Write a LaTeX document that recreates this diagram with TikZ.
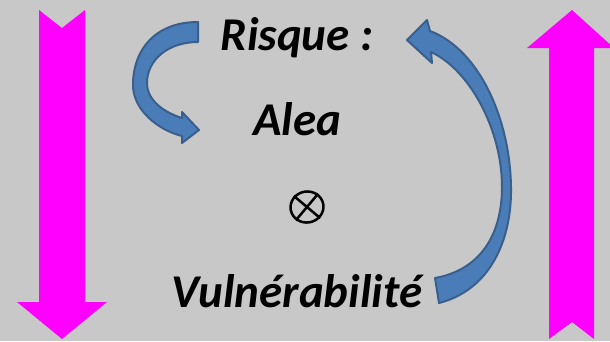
\documentclass[tikz,border=0pt]{standalone}
\usepackage{fontspec}
\setmainfont{Carlito}
\usepackage{tikz}
\usetikzlibrary{shapes.geometric}
\definecolor{mybg}{HTML}{C8C8C8}
\definecolor{mypink}{HTML}{FF00FF}
\definecolor{myblue}{HTML}{4A7DB8}
\definecolor{myedge}{HTML}{3A5F8C}
\tikzset{
  word/.style={anchor=base,font=\fontsize{47}{47}\selectfont\bfseries\itshape},
  curvearrow/.style={fill=myblue,draw=myedge,line width=2pt,line join=round}
}
\begin{document}
\begin{tikzpicture}[x=1pt,y=-1pt]

\fill[mybg] (0,0) rectangle (610,341);
\useasboundingbox (0,0) rectangle (610,341);

% magenta arrows
\fill[mypink] (39,10) -- (62,28) -- (85,10) -- (85,302) -- (107,302) -- (62,339)
    -- (17,302) -- (39,302) -- cycle;
\fill[mypink] (549,339) -- (572,322) -- (594,339) -- (594,48) -- (614,48) -- (572,10)
    -- (527,48) -- (549,48) -- cycle;

\node[word] (risque) at (297,50) {Risque :};
\node[word] (alea) at (297,135) {Alea};
\node[draw,ellipse,line width=2.5pt,minimum width=33pt,minimum height=31pt,
    inner sep=0pt,rotate=10] (otimes) at (307,207) {};
\draw[line width=2.5pt] (otimes.130) -- (otimes.-50);
\draw[line width=2.5pt] (otimes.40) -- (otimes.220);
\node[word] (vuln) at (297,307) {Vulnérabilité};

% curved arrows
\draw[curvearrow] (198,22) .. controls (155,22) and (133,50) .. (133,85)
    .. controls (133,110) and (158,130) .. (182,136) -- (182,143) -- (199,130)
    -- (182,112) -- (182,118) .. controls (163,112) and (147,100) .. (147,83)
    .. controls (147,60) and (168,42) .. (198,42) -- cycle;
\draw[curvearrow] (439,303) .. controls (490,290) and (512,240) .. (511,187)
    .. controls (510,120) and (480,50) .. (430,31) -- (427,20) -- (407,40)
    -- (432,63) -- (431,52) .. controls (470,70) and (502,130) .. (502,187)
    .. controls (502,235) and (480,270) .. (435,278) -- cycle;

\end{tikzpicture}
\end{document}
